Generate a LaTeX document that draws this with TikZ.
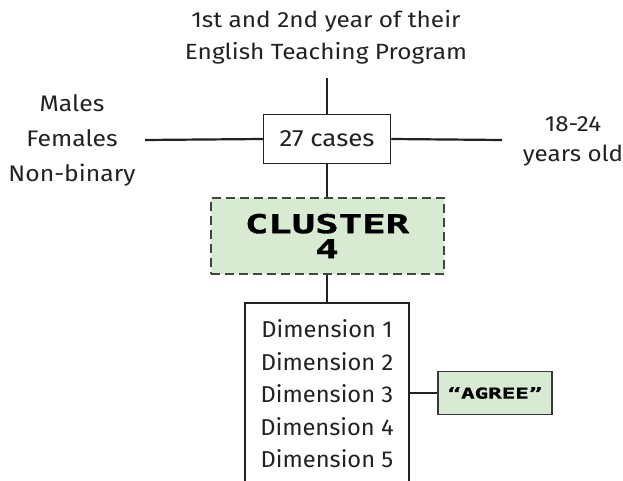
\documentclass[tikz,border=0pt]{standalone}
\usepackage{fontspec}
\setmainfont{Fira Sans}
\newfontfamily\blockfont{DejaVu Sans Mono Bold}[FakeStretch=1.5,FakeBold=1.2]
\newcommand{\txtsize}[3]{\addfontfeature{FakeStretch=#3}\fontsize{#1}{#2}\selectfont}
\definecolor{edge}{HTML}{222222}
\definecolor{leaf}{HTML}{D8EAD2}
\begin{document}
\begin{tikzpicture}[x=1pt,y=-1pt,
  label/.style={align=center,text=edge,inner sep=0pt},
  plainbox/.style={draw=edge,line width=1.5pt,fill=white,align=center,text=edge,inner sep=0pt},
  clusterbox/.style={draw=edge!85,line width=2pt,dash pattern=on 9pt off 5pt,fill=leaf,align=center,
    font=\blockfont\fontsize{26}{25}\selectfont,minimum width=233pt,minimum height=76pt,inner sep=0pt},
  tagbox/.style={draw=edge!90,line width=1.6pt,fill=leaf,font=\blockfont\fontsize{15}{14}\selectfont,
    minimum width=114pt,minimum height=43pt,inner sep=0pt},
  link/.style={draw=edge,line width=2.2pt}]
  \clip (0,0) rectangle (623,481);
  \fill[white] (0,0) rectangle (623,481);

  % header and side labels
  \node[label,font=\txtsize{22}{32}{1.11}] (program) at (326,37) {1st and 2nd year of their\\English Teaching Program};
  \node[label,font=\txtsize{22.5}{35}{1.1}] (gender) at (72,140) {Males\\Females\\Non-binary};
  \node[label,font=\txtsize{22}{30}{1.1}] (age) at (573,141) {18-24\\years old};
  \coordinate (gendertip) at (145,140);
  \coordinate (agetip) at (502,140);
  \coordinate (programtip) at (327,78);

  % central chain
  \node[plainbox,font=\txtsize{23.5}{30}{1.1},minimum width=127pt,minimum height=49pt] (cases) at (327,139) {27 cases};
  \node[clusterbox] (cluster) at (327,236) {CLUSTER\\4};
  \node[plainbox,font=\txtsize{23}{32.5}{1.03},minimum width=164pt,minimum height=182pt,anchor=north] (dims) at (327,302)
        {Dimension 1\\Dimension 2\\Dimension 3\\Dimension 4\\Dimension 5};
  \node[tagbox] (agree) at (495,393) {“AGREE”};

  % connectors
  \draw[link] (programtip) -- (cases.north);
  \draw[link] (gendertip) -- (cases.west);
  \draw[link] (cases.east) -- (agetip);
  \draw[link] (cases.south) -- (cluster.north);
  \draw[link] (cluster.south) -- (dims.north);
  \draw[link] (dims.east |- agree.west) -- (agree.west);
\end{tikzpicture}
\end{document}
